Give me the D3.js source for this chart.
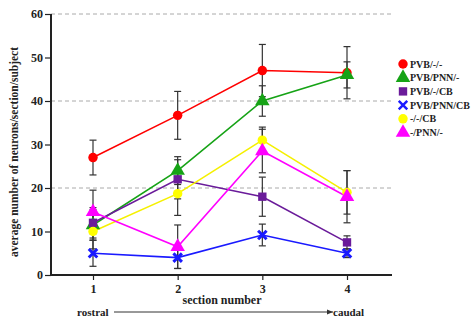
<!DOCTYPE html>
<html>
<head>
<meta charset="utf-8">
<script src="https://cdn.jsdelivr.net/npm/d3@7"></script>
<style>
  body { margin: 0; background: #fff; }
  svg text { font-family: "Liberation Serif", "DejaVu Serif", serif; font-weight: bold; }
</style>
</head>
<body>
<div id="chart"></div>
<script>
// section numbers and y ticks
const sections = [1, 2, 3, 4];
const yTicks = [0, 10, 20, 30, 40, 50, 60];
const gridTicks = [20, 40, 60];

// series means (neurons/section/subject)
const pvbOnly = [27, 36.7, 47, 46.5];
const pvbPnn = [11.5, 24, 40, 46];
const pvbCb = [12, 22, 18, 7.5];
const pvbPnnCb = [5, 4, 9.2, 5];
const cbOnly = [10, 18.7, 31, 19];
const pnnOnly = [14.5, 6.5, 28.5, 18];

// error (+/-)
const pvbOnlyErr = [4, 5.5, 6, 6];
const pvbPnnErr = [3.5, 3.2, 3.5, 3];
const pvbCbErr = [3.5, 4.5, 4.5, 1.5];
const pvbPnnCbErr = [3, 2.5, 2.5, 1];
const cbOnlyErr = [4, 5, 3, 5];
const pnnOnlyErr = [5, 5, 5, 6];

const names = ["PVB/-/-", "PVB/PNN/-", "PVB/-/CB", "PVB/PNN/CB", "-/-/CB", "-/PNN/-"];
const colors = ["#ff0000", "#16a316", "#6a1b9a", "#1a1aff", "#ffff00", "#ff00ff"];
const symbols = ["circle", "triangle", "square", "cross", "circle", "triangle"];

const series = [
  { name: names[0], values: pvbOnly, err: pvbOnlyErr },
  { name: names[1], values: pvbPnn, err: pvbPnnErr },
  { name: names[2], values: pvbCb, err: pvbCbErr },
  { name: names[3], values: pvbPnnCb, err: pvbPnnCbErr },
  { name: names[4], values: cbOnly, err: cbOnlyErr },
  { name: names[5], values: pnnOnly, err: pnnOnlyErr }
];

const width = 471, height = 322;
const svg = d3.select('#chart').append('svg')
  .attr('width', width)
  .attr('height', height);

const x = d3.scaleLinear().domain([1, 4]).range([93, 347]);
const y = d3.scaleLinear().domain([0, 60]).range([275, 14]);
const axisLeft = 51;

// dashed grid lines
svg.selectAll('.grid')
  .data(gridTicks)
  .enter().append('line')
  .attr('x1', axisLeft).attr('x2', 392)
  .attr('y1', d => y(d)).attr('y2', d => y(d))
  .attr('stroke', '#aaa')
  .attr('stroke-width', 1)
  .attr('stroke-dasharray', '4,3');

// y axis
const yAxis = svg.append('g')
  .attr('transform', `translate(${axisLeft},0)`)
  .call(d3.axisLeft(y).tickValues(yTicks).tickSize(6).tickPadding(2));
yAxis.select('.domain').attr('stroke', '#222').attr('stroke-width', 2).attr('d', `M0,${y(60)}V${y(0)}`);
yAxis.selectAll('.tick line').attr('stroke', '#222').attr('stroke-width', 1.2);
yAxis.selectAll('.tick text').attr('fill', '#222').style('font-size', '12px');

// x axis
const xAxis = svg.append('g')
  .attr('transform', `translate(0,${y(0)})`)
  .call(d3.axisBottom(x).tickValues(sections).tickFormat(d3.format('d')).tickSize(5).tickPadding(4));
xAxis.select('.domain').attr('stroke', '#222').attr('stroke-width', 2).attr('d', `M${axisLeft},0H392`);
xAxis.selectAll('.tick line').attr('stroke', '#222').attr('stroke-width', 1.2);
xAxis.selectAll('.tick text').attr('fill', '#222').style('font-size', '12px');

// axis titles
svg.append('text')
  .attr('transform', 'translate(18,152) rotate(-90)')
  .attr('text-anchor', 'middle')
  .style('font-size', '11.5px')
  .attr('fill', '#222')
  .text('average number of neurons/section/subject');

svg.append('text')
  .attr('x', 222).attr('y', 304)
  .attr('text-anchor', 'middle')
  .style('font-size', '12px')
  .attr('fill', '#222')
  .text('section number');

svg.append('text')
  .attr('x', 77).attr('y', 316)
  .style('font-size', '11px')
  .attr('fill', '#222')
  .text('rostral');
svg.append('text')
  .attr('x', 333).attr('y', 316)
  .style('font-size', '11px')
  .attr('fill', '#222')
  .text('caudal');

svg.append('defs').append('marker')
  .attr('id', 'arrow')
  .attr('viewBox', '0 0 10 10')
  .attr('refX', 10).attr('refY', 5)
  .attr('markerWidth', 6).attr('markerHeight', 6)
  .attr('orient', 'auto')
  .append('path').attr('d', 'M0,1L10,5L0,9Z').attr('fill', '#333');
svg.append('line')
  .attr('x1', 114).attr('x2', 333)
  .attr('y1', 312).attr('y2', 312)
  .attr('stroke', '#333').attr('stroke-width', 1)
  .attr('marker-end', 'url(#arrow)');

// error bars
series.forEach(s => {
  const g = svg.append('g');
  s.values.forEach((v, i) => {
    const cx = x(sections[i]);
    const lo = y(v - s.err[i]), hi = y(v + s.err[i]);
    g.append('line').attr('x1', cx).attr('x2', cx).attr('y1', lo).attr('y2', hi)
      .attr('stroke', '#333').attr('stroke-width', 1.2);
    [lo, hi].forEach(yy => g.append('line')
      .attr('x1', cx - 3.5).attr('x2', cx + 3.5).attr('y1', yy).attr('y2', yy)
      .attr('stroke', '#333').attr('stroke-width', 1.2));
  });
});

// lines
const line = d3.line()
  .x((d, i) => x(sections[i]))
  .y(d => y(d));

series.forEach((s, k) => {
  svg.append('path')
    .datum(s.values)
    .attr('fill', 'none')
    .attr('stroke', colors[k] === '#ffff00' ? '#f5f000' : colors[k])
    .attr('stroke-width', 1.6)
    .attr('d', line);
});

function symbolPath(type, size) {
  if (type === 'circle') return d3.symbol(d3.symbolCircle, size)();
  if (type === 'triangle') return d3.symbol(d3.symbolTriangle, size * 1.3)();
  if (type === 'square') return d3.symbol(d3.symbolSquare, size)();
  return d3.symbol(d3.symbolTimes, size * 0.7)();
}

// markers
series.forEach((s, k) => {
  s.values.forEach((v, i) => {
    const p = svg.append('path')
      .attr('transform', `translate(${x(sections[i])},${y(v)})`)
      .attr('d', symbolPath(symbols[k], 70));
    if (symbols[k] === 'cross') {
      p.attr('fill', 'none').attr('stroke', colors[k]).attr('stroke-width', 3);
    } else {
      p.attr('fill', colors[k]);
    }
  });
});

// legend
const legend = svg.append('g').attr('transform', 'translate(403,64)');
series.forEach((s, k) => {
  const row = legend.append('g').attr('transform', `translate(0,${k * 13.7})`);
  const m = row.append('path').attr('d', symbolPath(symbols[k], 70));
  if (symbols[k] === 'cross') {
    m.attr('fill', 'none').attr('stroke', colors[k]).attr('stroke-width', 2.5);
  } else {
    m.attr('fill', colors[k]);
  }
  row.append('text')
    .attr('x', 7).attr('y', 3.5)
    .style('font-size', '10px')
    .attr('fill', '#222')
    .text(s.name);
});
</script>
</body>
</html>
